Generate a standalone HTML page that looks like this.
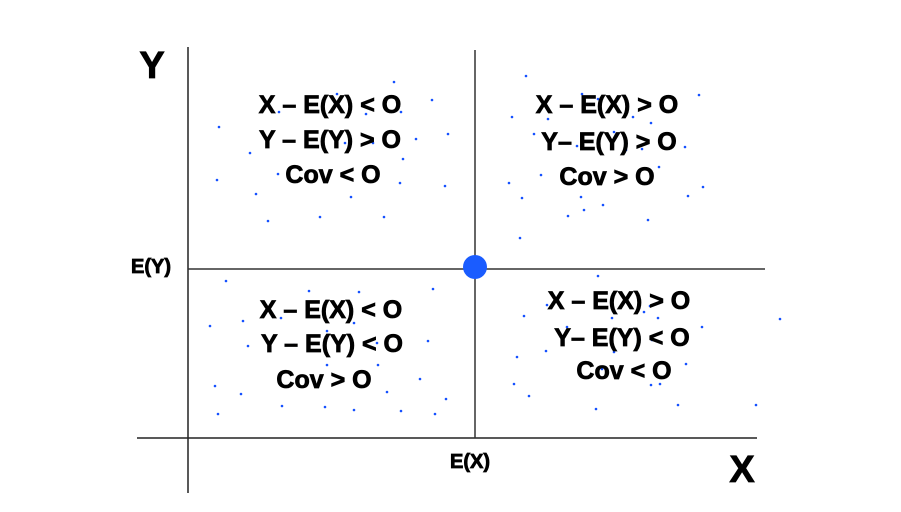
<!DOCTYPE html>
<html><head><meta charset="utf-8"><style>
html,body{margin:0;padding:0;background:#fff;}
svg{display:block;}
text{font-family:"Liberation Sans",sans-serif;font-weight:bold;fill:#000;stroke:#000;stroke-width:0.8;}
</style></head><body>
<svg id="chart" width="901" height="512" viewBox="0 0 901 512">
<rect width="901" height="512" fill="#fff"/>
<g id="axes">
<line x1="188" y1="47" x2="188" y2="493" stroke="#222" stroke-width="1.5"/>
<line x1="137" y1="438" x2="757" y2="438" stroke="#222" stroke-width="1.5"/>
<line x1="475" y1="50" x2="475" y2="438" stroke="#333" stroke-width="1.5"/>
<line x1="188" y1="269" x2="765" y2="269" stroke="#333" stroke-width="1.5"/>
</g>
<g id="dots"></g>
<circle cx="475" cy="267" r="12" fill="#1a5cff"/>
<text x="152" y="78" font-size="38" text-anchor="middle">Y</text>
<text x="742" y="482" font-size="38" text-anchor="middle">X</text>
<text x="151" y="273" font-size="20" text-anchor="middle">E(Y)</text>
<text x="470" y="468" font-size="20" text-anchor="middle">E(X)</text>
<g font-size="25" text-anchor="middle">
<text x="330" y="113">X – E(X) &lt; O</text>
<text x="330" y="148">Y – E(Y) &gt; O</text>
<text x="333" y="183">Cov &lt; O</text>
<text x="607" y="113">X – E(X) &gt; O</text>
<text x="609" y="150">Y– E(Y) &gt; O</text>
<text x="607" y="185">Cov &gt; O</text>
<text x="331" y="318">X – E(X) &lt; O</text>
<text x="332" y="352">Y – E(Y) &lt; O</text>
<text x="324" y="388">Cov &gt; O</text>
<text x="619" y="309">X – E(X) &gt; O</text>
<text x="622" y="346">Y– E(Y) &lt; O</text>
<text x="624" y="379">Cov &lt; O</text>
</g>
</svg>
<script>
// deviations from the mean (X - E(X), Y - E(Y))
const devX = [-81,-138,-43,-196,-109,-74,-256,-130,-102,-59,-27,-225,-72,-197,-258,-75,-30,-219,-124,-155,-91,-207,
51,107,224,123,37,73,158,176,59,139,102,151,167,210,184,66,34,228,47,106,213,128,109,93,173,45,
-249,-166,-116,-42,-232,-265,-194,-121,-148,-227,-181,-98,-76,-47,-148,-97,-55,-260,-234,-88,-29,-193,-150,-121,-74,-257,-40,
123,72,175,169,49,137,183,305,92,227,162,177,42,71,139,211,127,39,176,185,54,121,203,281];
const devY = [187,175,169,157,155,157,142,126,126,130,135,116,110,95,89,86,83,75,72,52,52,48,
193,175,174,170,152,150,152,146,135,137,123,119,120,122,102,94,86,82,71,72,73,64,59,53,49,31,
-12,-22,-23,-20,-52,-57,-49,-54,-62,-77,-76,-74,-72,-72,-96,-96,-110,-117,-125,-123,-130,-137,-138,-141,-142,-145,-145,
-7,-36,-37,-43,-47,-49,-49,-50,-58,-58,-77,-71,-88,-82,-83,-95,-100,-115,-116,-115,-127,-140,-136,-136];
const meanXpx = 475, meanYpx = 269;
function xScale(v){ return meanXpx + v; }
function yScale(v){ return meanYpx - v; }
const g = document.getElementById('dots');
for (let i = 0; i < devX.length; i++) {
  const c = document.createElementNS('http://www.w3.org/2000/svg','circle');
  c.setAttribute('cx', xScale(devX[i]));
  c.setAttribute('cy', yScale(devY[i]));
  c.setAttribute('r', 1.3);
  c.setAttribute('fill', '#1450ff');
  
  
  g.appendChild(c);
}
</script>
</body></html>
